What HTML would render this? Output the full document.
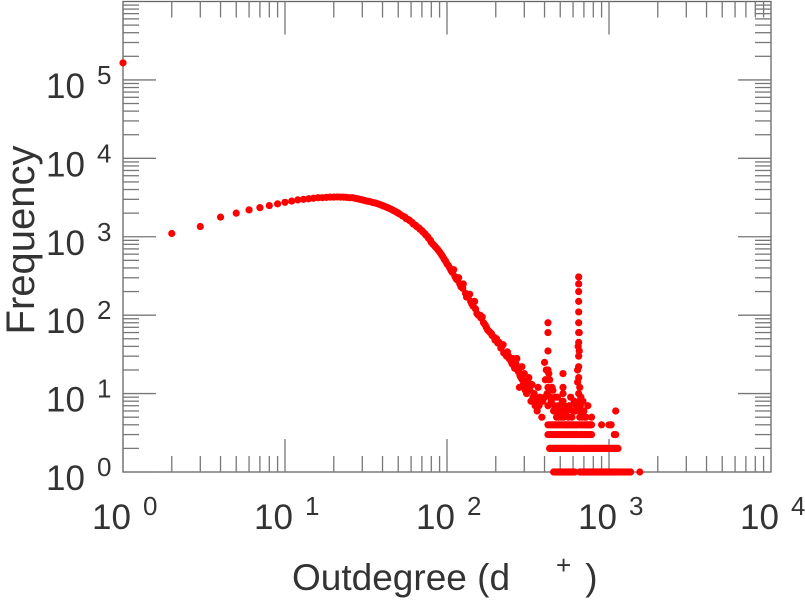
<!DOCTYPE html>
<html><head><meta charset="utf-8"><style>
html,body{margin:0;padding:0;background:#fff;}
svg{display:block;font-family:"Liberation Sans",sans-serif;}
</style></head><body>
<svg id="chart" width="805" height="600" viewBox="0 0 805 600" xmlns="http://www.w3.org/2000/svg">
<g id="axes"></g>
<g id="points"></g>
<text x="292" y="590" font-size="37" fill="#333">Outdegree (d<tspan dx="46" dy="-16" font-size="26">+</tspan><tspan dx="14" dy="16">)</tspan></text>
<text transform="translate(34,240) rotate(-90)" text-anchor="middle" font-size="40" fill="#333">Frequency</text>
</svg>
<script>
// smooth body of the distribution
const degrees = [1,2,3,4,5,6,7,8,9,10,11,12,13,14,15,16,17,18,19,20,21,22,23,24,25,26,27,28,29,30,32,34,36,38,40,42,44,46,48,50,53,56,59,62,65,68,71,74,77,80,84,88,92,96,100,104,108,112,116,120,125,130,135,140,145,150,156,162,168,175,182,190,198,206,215,224,233,242,252,262,272,282,292,302,312,325,340,355,370];
const freqs = [165000,1100,1350,1780,2000,2200,2350,2500,2630,2750,2850,2950,3000,3050,3100,3150,3150,3180,3200,3200,3220,3200,3200,3180,3150,3150,3100,3050,3000,2950,2850,2780,2700,2600,2500,2400,2300,2200,2100,2000,1850,1700,1600,1450,1350,1250,1150,1050,950,850,760,680,600,520,450,400,350,310,280,250,220,190,170,150,130,120,100,92,80,70,62,55,48,44,38,33,30,28,24,21,20,17,15,14,12,11,9,8,7];
// scatter around body (thickens band)
const scatterDeg = [31,33,35,37,39,41,43,45,47,49,51,55,58,61,64,67,70,73,76,79,82,86,90,94,98,102,106,110,114,118,122,126,132,138,142,148,153,160,165,172,178,185,188,196,202,210,218,222,230,236,240,248,255,260,266,270,276,280,286,290,296,300,305,310,318,320,330,335,345,350,360,365,375,385,390,400];
const scatterFreq = [2900,2820,2730,2650,2550,2450,2350,2250,2150,2050,1950,1780,1650,1520,1400,1300,1200,1100,1000,900,800,720,640,560,490,430,370,380,290,300,230,250,170,185,140,150,105,100,95,75,65,60,58,52,50,45,40,42,32,34,30,26,28,22,24,28,19,12,16,22,13,18,11,10,14,16,8,13,10,7,6,12,9,5,8,9];
// tail: noisy region and spikes
const tailDeg = [400,405,410,415,420,420,420,420,420,420,425,430,435,440,445,450,455,460,465,470,475,480,485,490,495,500,505,510,515,520,520,520,520,520,525,530,540,550,560,570,580,590,600,610,620,630,640,640,645,650,650,650,650,650,650,650,650,650,650,650,650,655,655,660,660,660,660,665,670,675,680,690,700,710,720,730,740,760,780,900,1000,1030,1080,1100];
const tailFreq = [25,15,20,10,80,60,35,20,12,7,18,15,9,8,12,11,6,7,9,6,5,9,7,5,6,6,5,5,8,18,12,8,6,10,5,7,4,6,5,7,9,5,6,8,6,7,14,20,40,307,250,200,150,110,80,60,45,30,22,16,10,60,35,8,6,12,5,7,9,6,5,8,6,5,5,4,7,4,5,4,4,4,3,6];
// low-count rows
const rowDeg = [455,462,470,476,482,488,494,500,506,512,518,524,530,538,545,552,560,567,575,582,590,598,606,614,660,668,676,684,692,700,710,720,730,740,750,760,770,780,790,800,810,820,830,840,850,860,870,880,890,900,910,920,930,940,950,960,970,980,990,1000,1015,1030,1045,1060,1080,1100,1120,1150,1180,1200,1230,1250,1280,1300,1330,1360,1550,
 430,437,445,452,460,467,475,482,490,497,505,512,520,528,535,542,550,560,570,580,590,600,610,620,630,645,660,675,690,705,720,735,750,765,780,795,810,825,840,855,870,885,900,920,940,960,980,1000,1020,1040,1060,1080,1100,1120,1137,
 420,430,440,450,460,470,480,490,500,510,520,530,540,550,560,570,580,590,600,610,620,630,640,660,675,690,705,720,735,750,765,780,1080,1100,
 420,430,440,450,460,470,480,490,500,510,520,530,540,550,560,570,580,590,600,610,620,630,640,660,675,690,705,720,735,750,765,780,1030];
const rowFreq = [1,1,1,1,1,1,1,1,1,1,1,1,1,1,1,1,1,1,1,1,1,1,1,1,1,1,1,1,1,1,1,1,1,1,1,1,1,1,1,1,1,1,1,1,1,1,1,1,1,1,1,1,1,1,1,1,1,1,1,1,1,1,1,1,1,1,1,1,1,1,1,1,1,1,1,1,1,
 2,2,2,2,2,2,2,2,2,2,2,2,2,2,2,2,2,2,2,2,2,2,2,2,2,2,2,2,2,2,2,2,2,2,2,2,2,2,2,2,2,2,2,2,2,2,2,2,2,2,2,2,2,2,2,
 3,3,3,3,3,3,3,3,3,3,3,3,3,3,3,3,3,3,3,3,3,3,3,3,3,3,3,3,3,3,3,3,3,3,
 4,4,4,4,4,4,4,4,4,4,4,4,4,4,4,4,4,4,4,4,4,4,4,4,4,4,4,4,4,4,4,4,4];
const xTicks = [0,1,2,3,4];
const yTicks = [0,1,2,3,4,5];

const X0=123,X1=771,Y0=472,Y1=1.5;
function xs(d){return X0+(X1-X0)*Math.log10(d)/4;}
function ys(f){return Y0-(Y0-Y1)*Math.log10(f)/6;}
const NS="http://www.w3.org/2000/svg";
function mk(tag,attrs,parent){const e=document.createElementNS(NS,tag);for(const k in attrs)e.setAttribute(k,attrs[k]);parent.appendChild(e);return e;}
const ax=document.getElementById('axes');
const frame=mk('rect',{x:X0,y:Y1,width:X1-X0,height:Y0-Y1,fill:'none',stroke:'#666','stroke-width':1.3},ax);


const tc='#777';
for(let p=0;p<4;p++){for(let m=1;m<10;m++){const x=xs(m*Math.pow(10,p));const L=m===1?33:16;
 const t1=mk('line',{x1:x,x2:x,y1:Y0,y2:Y0-L,stroke:tc,'stroke-width':1.3},ax);
 
 
 const t2=mk('line',{x1:x,x2:x,y1:Y1,y2:Y1+L,stroke:tc,'stroke-width':1.3},ax);
 
 }}
for(let p=0;p<6;p++){for(let m=1;m<10;m++){const y=ys(m*Math.pow(10,p));const L=m===1?33:16;
 const t1=mk('line',{x1:X0,x2:X0+L,y1:y,y2:y,stroke:tc,'stroke-width':1.3},ax);
 
 
 const t2=mk('line',{x1:X1,x2:X1-L,y1:y,y2:y,stroke:tc,'stroke-width':1.3},ax);
 
 }}
xTicks.forEach(p=>{const x=xs(Math.pow(10,p));
 const t=mk('text',{x:x-31,y:529,'font-size':35,fill:'#333'},ax);
 
 
 t.textContent='10';
 const s=mk('tspan',{dx:12,dy:-14,'font-size':26},t);s.textContent=String(p);});
yTicks.forEach(p=>{const y=ys(Math.pow(10,p));
 const t=mk('text',{x:46,y:y+18,'font-size':35,fill:'#333'},ax);
 
 
 t.textContent='10';
 const s=mk('tspan',{dx:12,dy:-14,'font-size':26},t);s.textContent=String(p);});
const pts=document.getElementById('points');
function plot(ds,fs){for(let i=0;i<ds.length;i++){
 const c=mk('circle',{cx:xs(ds[i]),cy:ys(fs[i]),r:3.6,fill:'#ff0000'},pts);
 
 }}
plot(degrees,freqs);plot(scatterDeg,scatterFreq);plot(tailDeg,tailFreq);plot(rowDeg,rowFreq);
</script>
</body></html>
